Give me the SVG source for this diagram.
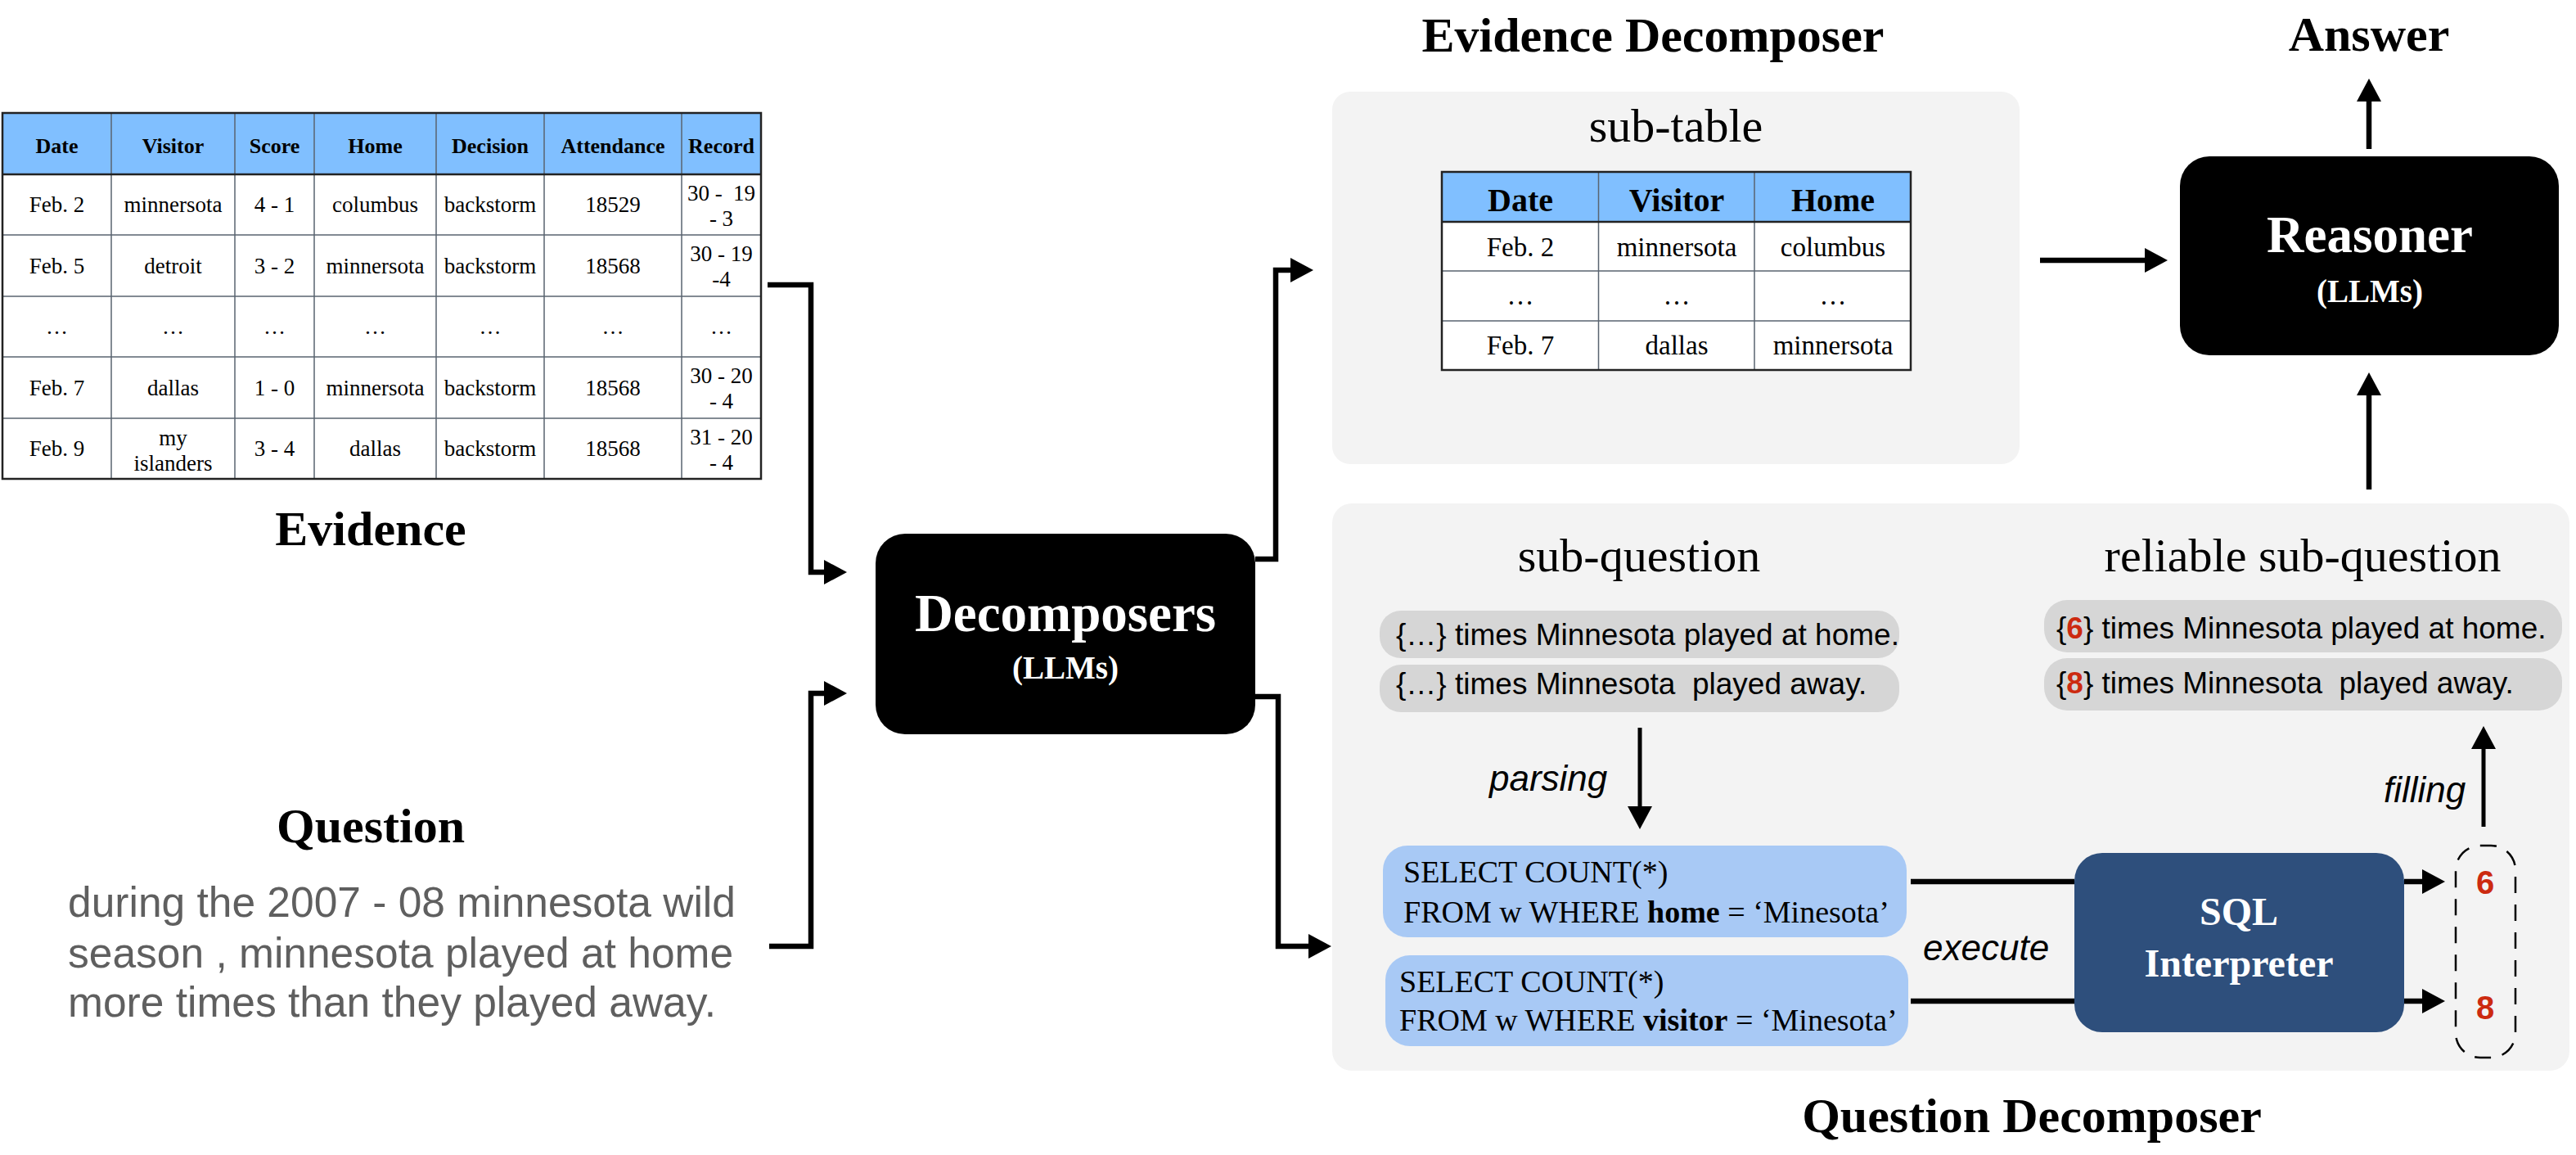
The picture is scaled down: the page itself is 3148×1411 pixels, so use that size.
<svg xmlns="http://www.w3.org/2000/svg" width="3148" height="1411" viewBox="0 0 3148 1411">
<defs>
<style>
.serif{font-family:"Liberation Serif","Times New Roman",serif;}
.sans{font-family:"Liberation Sans",Arial,sans-serif;}
.title{font-family:"Liberation Serif",serif;font-weight:bold;font-size:60px;text-anchor:middle;fill:#000;}
.sec{font-family:"Liberation Serif",serif;font-size:58px;text-anchor:middle;fill:#000;}
.th{font-family:"Liberation Serif",serif;font-weight:bold;font-size:26px;text-anchor:middle;fill:#000;}
.td{font-family:"Liberation Serif",serif;font-size:27px;text-anchor:middle;fill:#000;}
.sth{font-family:"Liberation Serif",serif;font-weight:bold;font-size:40px;text-anchor:middle;fill:#000;}
.std{font-family:"Liberation Serif",serif;font-size:33px;text-anchor:middle;fill:#000;}
.grid{stroke:#5a6470;stroke-width:1.5;fill:none;}
.outer{stroke:#222;stroke-width:2.5;fill:none;}
.pill{fill:#d6d6d6;}
.ptext{font-family:"Liberation Sans",Arial,sans-serif;font-size:37px;fill:#000;white-space:pre;}
.sql{font-family:"Liberation Serif",serif;font-size:38px;fill:#000;}
.label{font-family:"Liberation Sans",Arial,sans-serif;font-style:italic;font-size:44px;fill:#000;}
.llm{font-family:"Liberation Serif",serif;font-weight:bold;fill:#fff;text-anchor:middle;}
.red{fill:#cc2a10;font-weight:bold;}
.conn{stroke:#000;stroke-width:6.5;fill:none;stroke-linejoin:miter;}
.thin{stroke:#000;stroke-width:5;fill:none;}
</style>
<marker id="ah" markerUnits="userSpaceOnUse" markerWidth="30" markerHeight="34" refX="0" refY="15" orient="auto" viewBox="0 0 30 30" overflow="visible">
<path d="M0,0 L28,15 L0,30 z" fill="#000"/>
</marker>
</defs>
<rect width="3148" height="1411" fill="#fff"/>

<g id="evidence-table">
<rect x="3" y="138" width="927" height="75" fill="#80bfff"/>
<rect x="3" y="213" width="927" height="372" fill="#fff"/>
<path class="grid" d="M136,138V585M287,138V585M384,138V585M533,138V585M665,138V585M833,138V585M3,287H930M3,362H930M3,436H930M3,511H930"/>
<path d="M3,213H930" stroke="#222" stroke-width="2.5"/>
<rect class="outer" x="3" y="138" width="927" height="447"/>
<text class="th" y="187"><tspan x="69.5">Date</tspan><tspan x="211.5">Visitor</tspan><tspan x="335.5">Score</tspan><tspan x="458.5">Home</tspan><tspan x="599">Decision</tspan><tspan x="749">Attendance</tspan><tspan x="881.5">Record</tspan></text>
<text class="td" y="259"><tspan x="69.5">Feb. 2</tspan><tspan x="211.5">minnersota</tspan><tspan x="335.5">4 - 1</tspan><tspan x="458.5">columbus</tspan><tspan x="599">backstorm</tspan><tspan x="749">18529</tspan></text>
<text class="td" x="881.5" y="245" style="white-space:pre">30 -  19</text><text class="td" x="881.5" y="276">- 3</text>
<text class="td" y="334"><tspan x="69.5">Feb. 5</tspan><tspan x="211.5">detroit</tspan><tspan x="335.5">3 - 2</tspan><tspan x="458.5">minnersota</tspan><tspan x="599">backstorm</tspan><tspan x="749">18568</tspan></text>
<text class="td" x="881.5" y="319">30 - 19</text><text class="td" x="881.5" y="350">-4</text>
<text class="td" y="408"><tspan x="69.5">…</tspan><tspan x="211.5">…</tspan><tspan x="335.5">…</tspan><tspan x="458.5">…</tspan><tspan x="599">…</tspan><tspan x="749">…</tspan><tspan x="881.5">…</tspan></text>
<text class="td" y="483"><tspan x="69.5">Feb. 7</tspan><tspan x="211.5">dallas</tspan><tspan x="335.5">1 - 0</tspan><tspan x="458.5">minnersota</tspan><tspan x="599">backstorm</tspan><tspan x="749">18568</tspan></text>
<text class="td" x="881.5" y="468">30 - 20</text><text class="td" x="881.5" y="499">- 4</text>
<text class="td" y="557"><tspan x="69.5">Feb. 9</tspan><tspan x="335.5">3 - 4</tspan><tspan x="458.5">dallas</tspan><tspan x="599">backstorm</tspan><tspan x="749">18568</tspan></text>
<text class="td" x="211.5" y="544">my</text><text class="td" x="211.5" y="575">islanders</text>
<text class="td" x="881.5" y="543">31 - 20</text><text class="td" x="881.5" y="574">- 4</text>
</g>
<g id="evidence-label"><text class="title" x="453" y="666">Evidence</text></g>

<g id="question">
<text class="title" x="453" y="1029">Question</text>
<text class="sans" font-size="51.5" fill="#5f5f5f"><tspan x="83" y="1120">during the 2007 - 08 minnesota wild</tspan><tspan x="83" y="1182">season , minnesota played at home</tspan><tspan x="83" y="1242">more times than they played away.</tspan></text>
</g>

<g id="decomposers">
<rect x="1070" y="652" width="464" height="245" rx="36" fill="#000"/>
<text class="llm" x="1302" y="771" font-size="65">Decomposers</text>
<text class="llm" x="1302" y="829" font-size="39">(LLMs)</text>
</g>

<g id="evidence-decomposer">
<text class="title" x="2020" y="63">Evidence Decomposer</text>
<rect x="1628" y="112" width="840" height="455" rx="22" fill="#f3f3f3"/>
<text class="sec" x="2048" y="173">sub-table</text>
<rect x="1762" y="210" width="573" height="61" fill="#80bfff"/>
<rect x="1762" y="271" width="573" height="181" fill="#fff"/>
<path class="grid" d="M1953.5,210V452M2144,210V452M1762,331H2335M1762,392H2335"/>
<path d="M1762,271H2335" stroke="#222" stroke-width="2.5"/>
<rect class="outer" x="1762" y="210" width="573" height="242"/>
<text class="sth" y="258"><tspan x="1858">Date</tspan><tspan x="2049">Visitor</tspan><tspan x="2240">Home</tspan></text>
<text class="std" y="313"><tspan x="1858">Feb. 2</tspan><tspan x="2049">minnersota</tspan><tspan x="2240">columbus</tspan></text>
<text class="std" y="372"><tspan x="1858">…</tspan><tspan x="2049">…</tspan><tspan x="2240">…</tspan></text>
<text class="std" y="433"><tspan x="1858">Feb. 7</tspan><tspan x="2049">dallas</tspan><tspan x="2240">minnersota</tspan></text>
</g>

<g id="reasoner">
<rect x="2664" y="191" width="463" height="243" rx="36" fill="#000"/>
<text class="llm" x="2896" y="308" font-size="63">Reasoner</text>
<text class="llm" x="2896" y="369" font-size="39">(LLMs)</text>
</g>
<g id="answer"><text class="title" x="2895" y="62">Answer</text></g>

<g id="question-decomposer">
<rect x="1628" y="615" width="1512" height="693" rx="24" fill="#f3f3f3"/>
<text class="title" x="2483" y="1383">Question Decomposer</text>
<text class="sec" x="2003" y="698">sub-question</text>
<text class="sec" x="2814" y="698" font-size="59">reliable sub-question</text>
</g>

<g id="sub-questions">
<rect class="pill" x="1686" y="746" width="635" height="58" rx="26"/>
<rect class="pill" x="1686" y="812" width="635" height="58" rx="26"/>
<text class="ptext" x="1706" y="788">{…} times Minnesota played at home.</text>
<text class="ptext" x="1706" y="848">{…} times Minnesota  played away.</text>
</g>

<g id="reliable-sub-questions">
<rect class="pill" x="2498" y="733" width="633" height="64" rx="28"/>
<rect class="pill" x="2498" y="804" width="633" height="64" rx="28"/>
<text class="ptext" x="2513" y="780">{<tspan class="red">6</tspan>} times Minnesota played at home.</text>
<text class="ptext" x="2513" y="847">{<tspan class="red">8</tspan>} times Minnesota  played away.</text>
</g>

<g id="sql-query-1">
<rect x="1690" y="1033" width="640" height="112" rx="30" fill="#a8c9f5"/>
<text class="sql" x="1715" y="1078">SELECT COUNT(*)</text>
<text class="sql" x="1715" y="1127">FROM w WHERE <tspan font-weight="bold">home</tspan> = ‘Minesota’</text>
</g>
<g id="sql-query-2">
<rect x="1693" y="1167" width="639" height="111" rx="30" fill="#a8c9f5"/>
<text class="sql" x="1710" y="1212">SELECT COUNT(*)</text>
<text class="sql" x="1710" y="1259">FROM w WHERE <tspan font-weight="bold">visitor</tspan> = ‘Minesota’</text>
</g>

<g id="sql-interpreter">
<rect x="2535" y="1042" width="403" height="219" rx="34" fill="#2e4f7c"/>
<text class="llm" x="2736" y="1130" font-size="48">SQL</text>
<text class="llm" x="2736" y="1193" font-size="48">Interpreter</text>
</g>

<g id="results">
<rect x="3001" y="1033" width="73" height="259" rx="30" fill="none" stroke="#000" stroke-width="2.5" stroke-dasharray="20 14"/>
<text class="sans red" x="3037" y="1092" font-size="40" text-anchor="middle">6</text>
<text class="sans red" x="3037" y="1245" font-size="40" text-anchor="middle">8</text>
</g>

<g id="labels">
<text class="label" x="1820" y="966">parsing</text>
<text class="label" x="2913" y="980">filling</text>
<text class="label" x="2350" y="1173">execute</text>
</g>

<g id="connectors">
<path class="conn" d="M938,348H991V699H1007" marker-end="url(#ah)"/>
<path class="conn" d="M940,1156H991V847H1007" marker-end="url(#ah)"/>
<path class="conn" d="M1534,683H1559V330H1577" marker-end="url(#ah)"/>
<path class="conn" d="M1534,851H1562V1156H1599" marker-end="url(#ah)"/>
<path class="conn" d="M2493,318H2621" marker-end="url(#ah)"/>
<path class="conn" d="M2895,598V483" marker-end="url(#ah)"/>
<path class="conn" d="M2895,182V124" marker-end="url(#ah)"/>
<path class="thin" d="M2004,889V985" marker-end="url(#ah)"/>
<path class="thin" d="M3035,1010V915" marker-end="url(#ah)"/>
<path class="conn" d="M2335,1077H2535"/>
<path class="conn" d="M2335,1223H2535"/>
<path class="conn" d="M2938,1077H2960" marker-end="url(#ah)"/>
<path class="conn" d="M2938,1223H2960" marker-end="url(#ah)"/>
</g>
</svg>
